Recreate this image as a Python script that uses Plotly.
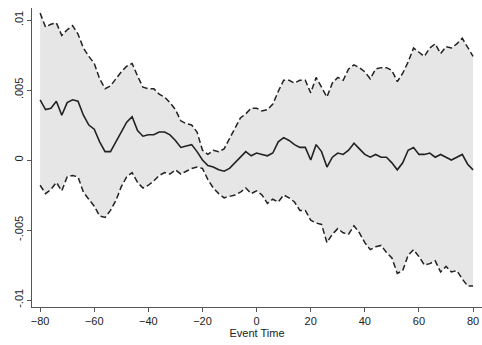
import plotly.graph_objects as go

event_time = list(range(-80, 81, 2))

upper = [.0105, .0095, .0097, .0098, .0089, .0093, .0096, .0090, .0080, .0074,
         .0069, .0058, .0051, .0053, .0058, .0063, .0067, .0069, .0060, .0052,
         .0051, .0051, .0047, .0045, .0041, .0036, .0028, .0026, .0025, .0020,
         .0007, .0004, .0007, .0006, .0008, .0015, .0022, .0030, .0033, .0037,
         .0037, .0035, .0036, .0040, .0049, .0057, .0057, .0055, .0057, .0057,
         .0048, .0059, .0052, .0045, .0055, .0059, .0057, .0065, .0068, .0066,
         .0063, .0058, .0065, .0066, .0066, .0064, .0056, .0062, .0070, .0080,
         .0077, .0074, .0080, .0083, .0076, .0081, .0080, .0083, .0087, .0080,
         .0074]

estimate = [.0043, .0036, .0037, .0042, .0032, .0041, .0043, .0042, .0032, .0025,
            .0022, .0013, .0006, .0006, .0013, .0020, .0027, .0031, .0021, .0017,
            .0018, .0018, .0020, .0020, .0018, .0014, .0009, .0010, .0011, .0006,
            .0000, -.0004, -.0005, -.0007, -.0008, -.0006, -.0002, .0002, .0006, .0003,
            .0005, .0004, .0003, .0005, .0013, .0016, .0014, .0011, .0009, .0009,
            .0000, .0011, .0006, -.0005, .0002, .0005, .0004, .0007, .0012, .0008,
            .0004, .0002, .0004, .0002, .0002, -.0002, -.0007, -.0002, .0007, .0009,
            .0004, .0004, .0005, .0002, .0004, .0002, .0000, .0002, .0004, -.0003,
            -.0007]

lower = [-.0018, -.0024, -.0021, -.0016, -.0022, -.0012, -.0011, -.0012, -.0023, -.0028,
         -.0033, -.0040, -.0041, -.0036, -.0029, -.0019, -.0012, -.0009, -.0016, -.0020,
         -.0018, -.0015, -.0011, -.0009, -.0010, -.0007, -.0010, -.0008, -.0006, -.0005,
         -.0006, -.0014, -.0020, -.0024, -.0027, -.0026, -.0025, -.0023, -.0020, -.0024,
         -.0022, -.0025, -.0031, -.0028, -.0030, -.0025, -.0027, -.0030, -.0036, -.0036,
         -.0043, -.0045, -.0046, -.0059, -.0053, -.0049, -.0052, -.0053, -.0047, -.0052,
         -.0059, -.0064, -.0062, -.0061, -.0066, -.0070, -.0081, -.0079, -.0068, -.0064,
         -.0069, -.0075, -.0074, -.0072, -.0080, -.0076, -.0080, -.0079, -.0085, -.0090,
         -.0090]

x_ticks = [-80, -60, -40, -20, 0, 20, 40, 60, 80]
y_ticks = [-0.01, -0.005, 0, 0.005, 0.01]
y_tick_labels = ["-.01", "-.005", "0", ".005", ".01"]

line_color = "#222222"

fig = go.Figure()
fig.add_trace(go.Scatter(
    x=event_time + event_time[::-1],
    y=upper + lower[::-1],
    fill="toself", fillcolor="#e6e6e6",
    line=dict(width=0), mode="lines", hoverinfo="skip", showlegend=False))
fig.add_trace(go.Scatter(x=event_time, y=upper, mode="lines",
                         line=dict(color=line_color, width=1.5, dash="6px,3px"),
                         showlegend=False))
fig.add_trace(go.Scatter(x=event_time, y=lower, mode="lines",
                         line=dict(color=line_color, width=1.5, dash="6px,3px"),
                         showlegend=False))
fig.add_trace(go.Scatter(x=event_time, y=estimate, mode="lines",
                         line=dict(color=line_color, width=1.6),
                         showlegend=False))

font = dict(family="Liberation Sans, Arial, sans-serif", size=11, color="#222")

fig.update_layout(
    width=482, height=345,
    margin=dict(l=32, r=0, t=8, b=38),
    paper_bgcolor="white", plot_bgcolor="white",
    font=font,
    showlegend=False,
)
fig.update_xaxes(
    range=[-83, 83.3], tickvals=x_ticks, ticks="outside", ticklen=4,
    tickcolor="#555", showline=True, linecolor="#555", linewidth=1,
    showgrid=False, zeroline=False,
    title=dict(text="Event Time", standoff=2, font=font),
)
fig.update_yaxes(
    range=[-0.0105, 0.01086], tickvals=y_ticks, ticktext=y_tick_labels,
    tickangle=-90, ticks="outside", ticklen=4, tickcolor="#555",
    showline=True, linecolor="#555", linewidth=1,
    showgrid=False, zeroline=False,
)

fig.write_html(
    "out.html",
    config={"displayModeBar": False},
    post_script="document.body.style.margin='0';document.body.style.overflow='hidden';",
)
